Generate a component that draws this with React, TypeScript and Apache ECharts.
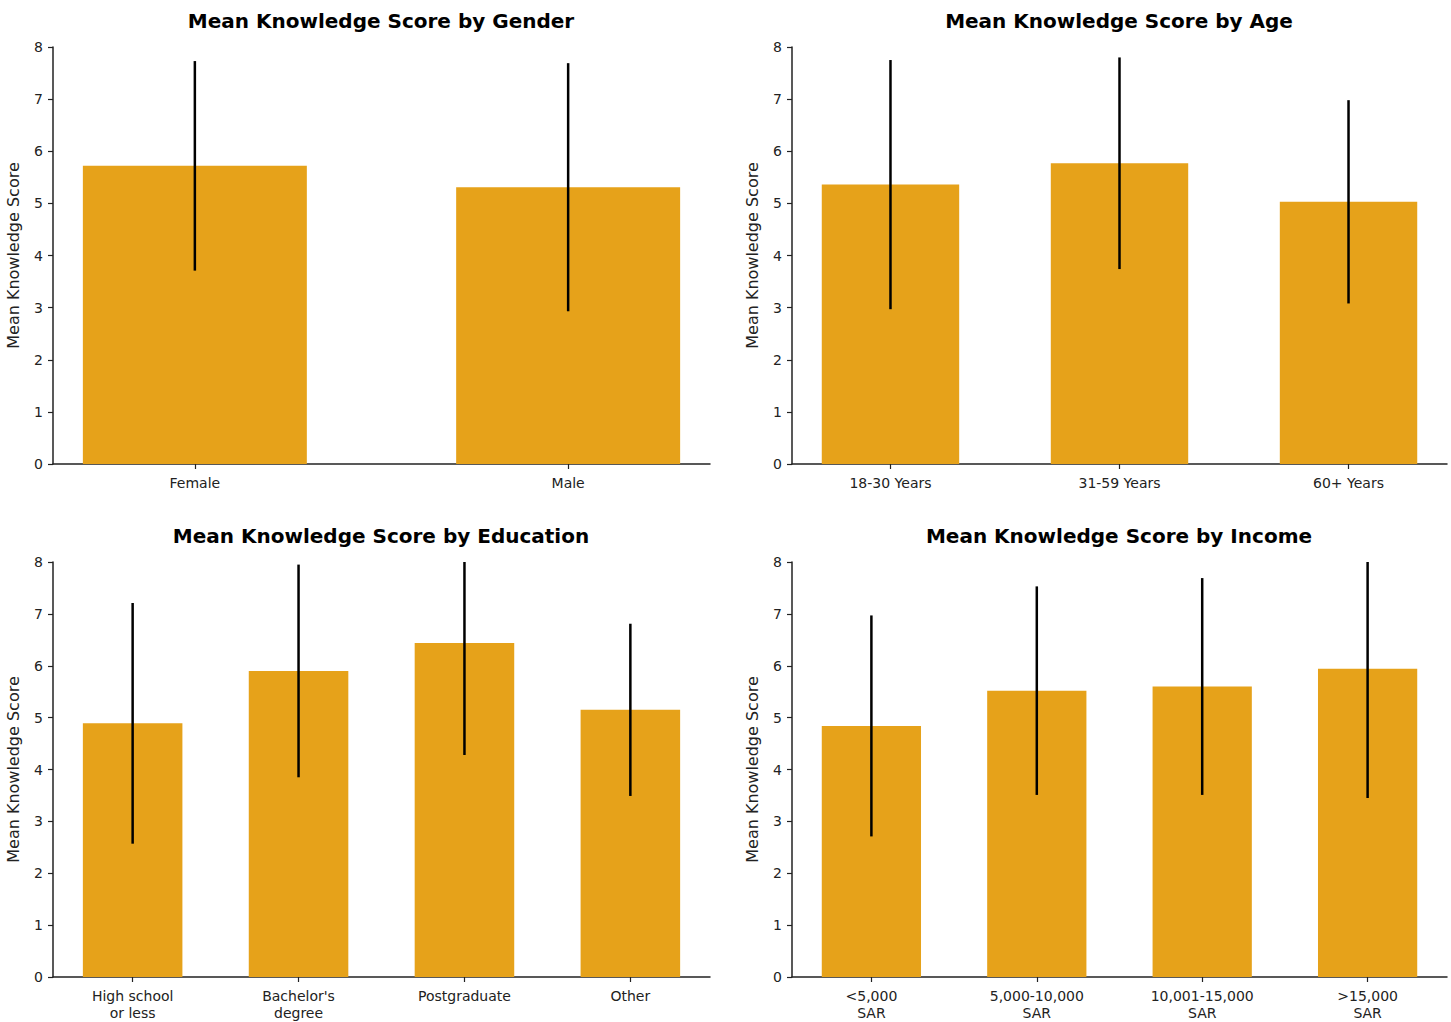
import React, { useEffect, useRef } from "react";
import * as echarts from "echarts";

const genderCats = ["Female", "Male"];
const genderMeans = [5.72, 5.31];
const genderSD = [2.01, 2.38];

const ageCats = ["18-30 Years", "31-59 Years", "60+ Years"];
const ageMeans = [5.36, 5.77, 5.03];
const ageSD = [2.39, 2.03, 1.95];

const eduCats = ["High school\nor less", "Bachelor's\ndegree", "Postgraduate", "Other"];
const eduMeans = [4.89, 5.9, 6.44, 5.15];
const eduSD = [2.32, 2.05, 2.16, 1.66];

const incomeCats = ["<5,000\nSAR", "5,000-10,000\nSAR", "10,001-15,000\nSAR", ">15,000\nSAR"];
const incomeMeans = [4.84, 5.52, 5.6, 5.94];
const incomeSD = [2.13, 2.01, 2.09, 2.49];

const yTicks = [0, 1, 2, 3, 4, 5, 6, 7, 8];

const titles = [
  "Mean Knowledge Score by Gender",
  "Mean Knowledge Score by Age",
  "Mean Knowledge Score by Education",
  "Mean Knowledge Score by Income",
];

const BAR_COLOR = "#E6A21A";
const BAR_WIDTH = 0.6;
const FONT = "DejaVu Sans";

const panels = [
  { cats: genderCats, means: genderMeans, sd: genderSD, grid: { left: 53, top: 47, width: 657, height: 417 }, titleX: 381, titleY: 21 },
  { cats: ageCats, means: ageMeans, sd: ageSD, grid: { left: 792, top: 47, width: 655, height: 417 }, titleX: 1119, titleY: 21 },
  { cats: eduCats, means: eduMeans, sd: eduSD, grid: { left: 53, top: 562, width: 657, height: 415 }, titleX: 381, titleY: 536 },
  { cats: incomeCats, means: incomeMeans, sd: incomeSD, grid: { left: 792, top: 562, width: 655, height: 415 }, titleX: 1119, titleY: 536 },
];

export default function App() {
  const ref = useRef<HTMLDivElement>(null);

  useEffect(() => {
    if (!ref.current) return;
    const chart = echarts.init(ref.current, null, { renderer: "svg" });

    const grids: any[] = [];
    const xAxes: any[] = [];
    const yAxes: any[] = [];
    const series: any[] = [];
    const graphics: any[] = [];

    panels.forEach((p, i) => {
      const n = p.cats.length;
      const span = n - 1 + BAR_WIDTH;
      const margin = 0.05 * span;
      grids.push({ ...p.grid, containLabel: false });
      const idxs = p.cats.map((_, k) => k);
      xAxes.push({
        gridIndex: i,
        type: "value",
        min: -BAR_WIDTH / 2 - margin,
        max: n - 1 + BAR_WIDTH / 2 + margin,
        splitLine: { show: false },
        axisLine: { show: true, onZero: false, lineStyle: { color: "#222", width: 1.5 } },
        axisTick: { show: true, customValues: idxs, length: 5, lineStyle: { color: "#222", width: 1.2 } },
        axisLabel: {
          show: true,
          customValues: idxs,
          formatter: (v: number) => p.cats[Math.round(v)] ?? "",
          fontFamily: FONT,
          fontSize: 14,
          color: "#222",
          margin: 10,
          lineHeight: 17,
        },
      });
      yAxes.push({
        gridIndex: i,
        type: "value",
        min: yTicks[0],
        max: yTicks[yTicks.length - 1],
        interval: 1,
        name: "Mean Knowledge Score",
        nameLocation: "middle",
        nameGap: 32,
        nameTextStyle: { fontFamily: FONT, fontSize: 16, color: "#222" },
        splitLine: { show: false },
        axisLine: { show: true, onZero: false, lineStyle: { color: "#222", width: 1.5 } },
        axisTick: { show: true, length: 5, lineStyle: { color: "#222", width: 1.2 } },
        axisLabel: { fontFamily: FONT, fontSize: 14, color: "#222", margin: 10 },
      });
      const data = p.means.map((m, k) => [k, m, p.sd[k]]);
      series.push({
        type: "custom",
        xAxisIndex: i,
        yAxisIndex: i,
        clip: true,
        data,
        encode: { x: 0, y: 1 },
        renderItem: (params: any, api: any) => {
          const x = api.value(0);
          const m = api.value(1);
          const s = api.value(2);
          const b0 = api.coord([x - BAR_WIDTH / 2, 0]);
          const b1 = api.coord([x + BAR_WIDTH / 2, m]);
          const lo = api.coord([x, m - s]);
          const hi = api.coord([x, m + s]);
          return {
            type: "group",
            children: [
              {
                type: "rect",
                shape: { x: b0[0], y: b1[1], width: b1[0] - b0[0], height: b0[1] - b1[1] },
                style: { fill: BAR_COLOR },
              },
              {
                type: "line",
                shape: { x1: lo[0], y1: lo[1], x2: hi[0], y2: hi[1] },
                style: { stroke: "#000", lineWidth: 2.5 },
              },
            ],
          };
        },
      });
      graphics.push({
        type: "text",
        x: p.titleX,
        y: p.titleY,
        style: {
          text: titles[i],
          textAlign: "center",
          textVerticalAlign: "middle",
          fontFamily: FONT,
          fontWeight: "bold",
          fontSize: 20,
          fill: "#000",
        },
      });
    });

    chart.setOption({
      animation: false,
      backgroundColor: "#fff",
      grid: grids,
      xAxis: xAxes,
      yAxis: yAxes,
      series,
      graphic: graphics,
    });

    return () => chart.dispose();
  }, []);

  return (
    <div
      ref={ref}
      style={{ position: "fixed", left: 0, top: 0, width: 1451, height: 1022, background: "#fff" }}
    />
  );
}
